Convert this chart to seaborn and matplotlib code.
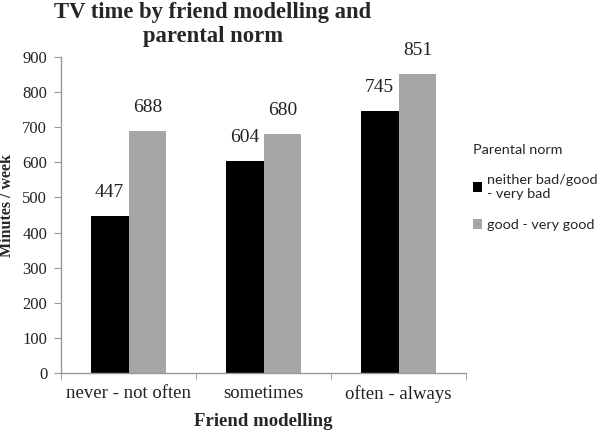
import matplotlib
matplotlib.use('Agg')
import matplotlib.pyplot as plt
import seaborn as sns
import pandas as pd

# values
friend_modelling = ['never - not often', 'sometimes', 'often - always']
norm_bad = [447, 604, 745]
norm_good = [688, 680, 851]
norm_labels = ['neither bad/good\n- very bad', 'good - very good']
y_ticks = [0, 100, 200, 300, 400, 500, 600, 700, 800, 900]

data = pd.DataFrame({
    'friend': friend_modelling * 2,
    'minutes': norm_bad + norm_good,
    'norm': [norm_labels[0]] * 3 + [norm_labels[1]] * 3,
})

sns.set_style('white')
serif = ['Liberation Serif', 'DejaVu Serif']
sans = ['Lato', 'DejaVu Sans']

fig = plt.figure(figsize=(6, 4.36), dpi=100)
ax = fig.add_axes([0.1017, 0.1445, 0.675, 0.7248])

sns.barplot(x='friend', y='minutes', hue='norm', data=data, order=friend_modelling,
            hue_order=norm_labels, palette=['#000000', '#a6a6a6'], width=0.56,
            saturation=1, errorbar=None, linewidth=0, ax=ax)

for cont in ax.containers:
    ax.bar_label(cont, padding=11, fontsize=14, family=serif, color='#222222')

ax.set_ylim(0, 900)
ax.set_yticks(y_ticks)
ax.set_xlim(-0.5, 2.5)
for lab in ax.get_yticklabels():
    lab.set_family(serif)
    lab.set_fontsize(12)
    lab.set_color('#222222')
for lab in ax.get_xticklabels():
    lab.set_family(serif)
    lab.set_fontsize(13.5)
    lab.set_color('#222222')

# ticks between categories on the x axis
ax.set_xticks([-0.5, 0.5, 1.5, 2.5], minor=True)
ax.tick_params(axis='x', which='major', length=0, pad=9)
ax.tick_params(axis='x', which='minor', length=5, color='#999999', direction='out', bottom=True)
ax.tick_params(axis='y', length=5, color='#999999', direction='out', left=True, pad=5)

for side in ['top', 'right']:
    ax.spines[side].set_visible(False)
for side in ['left', 'bottom']:
    ax.spines[side].set_color('#999999')
    ax.spines[side].set_linewidth(1)

ax.set_xlabel('Friend modelling', family=serif, fontweight='bold', fontsize=13.5, labelpad=7)
ax.set_ylabel('Minutes / week', family=serif, fontweight='bold', fontsize=11.5)
ax.yaxis.set_label_coords(-0.113, 0.53)

leg = ax.legend(title='Parental norm', loc='upper left', bbox_to_anchor=(0.985, 0.765),
                frameon=False, prop={'family': sans, 'size': 10.4}, handlelength=0.65,
                handleheight=0.65, handletextpad=0.3, labelspacing=1.3)
leg.get_title().set_family(sans)
leg.get_title().set_fontsize(10.4)
leg._legend_box.align = 'left'
leg._legend_box.sep = 13

fig.text(0.355, 0.995, 'TV time by friend modelling and\nparental norm', ha='center', va='top',
         family=serif, fontweight='bold', fontsize=16.3, linespacing=1.2)

fig.savefig('out.png', dpi=100)
